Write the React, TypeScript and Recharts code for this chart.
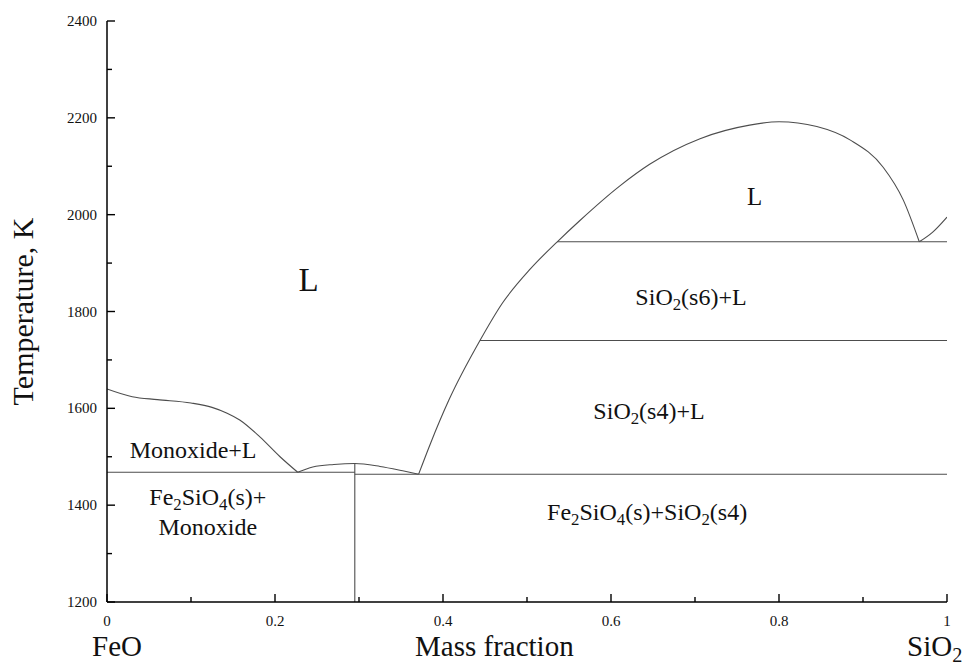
import { LineChart, Line, XAxis, YAxis, ReferenceDot } from "recharts";

const FONT = '"Liberation Serif", "Times New Roman", serif';
const INK = "#111";
const CURVE = "#4d4d4d";
const TICK_GAP = 10;

// x = mass fraction SiO2, t = temperature in K
const feoLiquidusX = [0, 0.03, 0.06, 0.1, 0.125, 0.143, 0.158, 0.182, 0.206, 0.227];
const feoLiquidusT = [1640, 1624, 1618, 1611, 1602, 1590, 1576, 1541, 1500, 1468];

const faDomeX = [0.227, 0.245, 0.27, 0.295, 0.325, 0.352, 0.371];
const faDomeT = [1468, 1479, 1484, 1486, 1480, 1471, 1464];

const silicaLiquidusX = [0.371, 0.385, 0.407, 0.444, 0.471, 0.504, 0.536, 0.563, 0.611, 0.646, 0.706, 0.765, 0.8, 0.845, 0.885, 0.924, 0.948, 0.967];
const silicaLiquidusT = [1464, 1527, 1617, 1740, 1818, 1888, 1944, 1988, 2060, 2104, 2157, 2185, 2192, 2182, 2154, 2098, 2030, 1944];

const cristobaliteX = [0.967, 0.983, 1];
const cristobaliteT = [1944, 1964, 1995];

const eutecticLeftX = [0, 0.295];
const eutecticLeftT = [1468, 1468];
const eutecticRightX = [0.295, 1];
const eutecticRightT = [1464, 1464];
const faVerticalX = [0.295, 0.295];
const faVerticalT = [1200, 1486];
const s6LineX = [0.536, 1];
const s6LineT = [1944, 1944];
const s4LineX = [0.444, 1];
const s4LineT = [1740, 1740];

const xTicks = [0, 0.1, 0.2, 0.3, 0.4, 0.5, 0.6, 0.7, 0.8, 0.9, 1];
const xTickLabels = ["0", "", "0.2", "", "0.4", "", "0.6", "", "0.8", "", "1"];
const yTicks = [1200, 1300, 1400, 1500, 1600, 1700, 1800, 1900, 2000, 2100, 2200, 2300, 2400];
const yTickLabels = ["1200", "", "1400", "", "1600", "", "1800", "", "2000", "", "2200", "", "2400"];

// phase-field labels, "_2" marks a subscript
const phaseText = ["L", "L", "SiO_2(s6)+L", "SiO_2(s4)+L", "Monoxide+L", "Fe_2SiO_4(s)+", "Monoxide", "Fe_2SiO_4(s)+SiO_2(s4)"];
const phaseX = [0.24, 0.771, 0.629, 0.579, 0.027, 0.12, 0.12, 0.643];
const phaseT = [1842, 2020, 1813, 1578, 1497, 1400, 1338, 1369];

const pts = (xs: number[], ts: number[]) => xs.map((x, i) => ({ x, t: ts[i] }));

const boundaries = [
  { key: "feo-liq", data: pts(feoLiquidusX, feoLiquidusT), curved: true },
  { key: "fa-dome", data: pts(faDomeX, faDomeT), curved: true },
  { key: "sio2-liq", data: pts(silicaLiquidusX, silicaLiquidusT), curved: true },
  { key: "crist", data: pts(cristobaliteX, cristobaliteT), curved: true },
  { key: "eut-l", data: pts(eutecticLeftX, eutecticLeftT), curved: false },
  { key: "eut-r", data: pts(eutecticRightX, eutecticRightT), curved: false },
  { key: "fa-v", data: pts(faVerticalX, faVerticalT), curved: false },
  { key: "s6", data: pts(s6LineX, s6LineT), curved: false },
  { key: "s4", data: pts(s4LineX, s4LineT), curved: false },
];

const labelSize = [33, 25, 24, 24, 24, 24, 24, 24];
const labelAnchor = ["middle", "middle", "start", "start", "start", "middle", "middle", "middle"];

function Subscripted({ text, size }: { text: string; size: number }) {
  const parts = text.split(/(_\d)/).filter((p) => p !== "");
  const shift = Math.round(size * 0.22);
  let down = false;
  return (
    <>
      {parts.map((p, i) => {
        if (p.startsWith("_")) {
          down = true;
          return (
            <tspan key={i} dy={shift} fontSize={size * 0.7}>
              {p.slice(1)}
            </tspan>
          );
        }
        const dy = down ? -shift : 0;
        down = false;
        return (
          <tspan key={i} dy={dy}>
            {p}
          </tspan>
        );
      })}
    </>
  );
}

function BottomTick({ x, y, payload }: any) {
  const ay = y - TICK_GAP;
  const label = xTickLabels[xTicks.indexOf(payload.value)];
  return (
    <g>
      <line x1={x} x2={x} y1={ay} y2={ay - (label ? 8 : 5)} stroke="#000" strokeWidth={1.4} />
      {label && (
        <text x={x} y={ay + 24} textAnchor="middle" style={{ fontFamily: FONT, fontSize: 15 }} fill={INK}>
          {label}
        </text>
      )}
    </g>
  );
}

function TopTick({ x, y, payload }: any) {
  const ay = y + TICK_GAP;
  const major = xTickLabels[xTicks.indexOf(payload.value)] !== "";
  return <line x1={x} x2={x} y1={ay} y2={ay + (major ? 8 : 5)} stroke="#000" strokeWidth={1.4} />;
}

function LeftTick({ x, y, payload }: any) {
  const ax = x + TICK_GAP;
  const label = yTickLabels[yTicks.indexOf(payload.value)];
  return (
    <g>
      <line x1={ax} x2={ax + (label ? 8 : 5)} y1={y} y2={y} stroke="#000" strokeWidth={1.4} />
      {label && (
        <text x={ax - 10} y={y + 5} textAnchor="end" style={{ fontFamily: FONT, fontSize: 15 }} fill={INK}>
          {label}
        </text>
      )}
    </g>
  );
}

function RightTick({ x, y, payload }: any) {
  const ax = x - TICK_GAP;
  const major = yTickLabels[yTicks.indexOf(payload.value)] !== "";
  return <line x1={ax} x2={ax - (major ? 8 : 5)} y1={y} y2={y} stroke="#000" strokeWidth={1.4} />;
}

function XTitles(props: any) {
  const vb = props.viewBox ?? { x: 107, y: 602, width: 840, height: 30 };
  const base = vb.y + 54;
  return (
    <g style={{ fontFamily: FONT, fontSize: 29 }} fill={INK}>
      <text x={vb.x - 15} y={base}>FeO</text>
      <text x={vb.x + 308} y={base}>Mass fraction</text>
      <text x={vb.x + 800} y={base}>
        <Subscripted text="SiO_2" size={29} />
      </text>
    </g>
  );
}

function YTitle(props: any) {
  const vb = props.viewBox ?? { x: 47, y: 21, width: 60, height: 581 };
  const bx = vb.x - 14;
  const cy = vb.y + vb.height / 2;
  return (
    <text
      x={bx}
      y={cy}
      transform={`rotate(-90 ${bx} ${cy})`}
      textAnchor="middle"
      style={{ fontFamily: FONT, fontSize: 30 }}
      fill={INK}
    >
      Temperature, K
    </text>
  );
}

export default function App() {
  return (
    <div style={{ position: "absolute", left: 0, top: 0, background: "#fff", fontFamily: FONT }}>
      <LineChart width={976} height={666} margin={{ top: 21, right: 29, bottom: 34, left: 47 }}>
        <XAxis
          xAxisId="bottom"
          type="number"
          dataKey="x"
          domain={[0, 1]}
          ticks={xTicks}
          interval={0}
          allowDataOverflow
          height={30}
          tickSize={0}
          tickLine={false}
          tickMargin={TICK_GAP}
          tick={<BottomTick />}
          axisLine={{ stroke: "#000", strokeWidth: 1.5 }}
          label={(p: any) => <XTitles {...p} />}
        />
        <XAxis
          xAxisId="top"
          orientation="top"
          type="number"
          dataKey="x"
          domain={[0, 1]}
          ticks={xTicks}
          interval={0}
          allowDataOverflow
          height={0}
          tickSize={0}
          tickLine={false}
          tickMargin={TICK_GAP}
          tick={<TopTick />}
          axisLine={{ stroke: "#000", strokeWidth: 1.5 }}
        />
        <YAxis
          yAxisId="left"
          type="number"
          dataKey="t"
          domain={[1200, 2400]}
          ticks={yTicks}
          interval={0}
          allowDataOverflow
          width={60}
          tickSize={0}
          tickLine={false}
          tickMargin={TICK_GAP}
          tick={<LeftTick />}
          axisLine={{ stroke: "#000", strokeWidth: 1.5 }}
          label={(p: any) => <YTitle {...p} />}
        />
        <YAxis
          yAxisId="right"
          orientation="right"
          type="number"
          dataKey="t"
          domain={[1200, 2400]}
          ticks={yTicks}
          interval={0}
          allowDataOverflow
          width={0}
          tickSize={0}
          tickLine={false}
          tickMargin={TICK_GAP}
          tick={<RightTick />}
          axisLine={{ stroke: "#000", strokeWidth: 1.5 }}
        />
        {boundaries.map((b) => (
          <Line
            key={b.key}
            xAxisId="bottom"
            yAxisId="left"
            data={b.data}
            dataKey="t"
            type={b.curved ? "monotone" : "linear"}
            stroke={CURVE}
            strokeWidth={1.1}
            dot={false}
            activeDot={false}
            isAnimationActive={false}
          />
        ))}
        {phaseText.map((txt, i) => (
          <ReferenceDot
            key={`lbl-${i}`}
            xAxisId="bottom"
            yAxisId="left"
            x={phaseX[i]}
            y={phaseT[i]}
            r={1}
            ifOverflow="visible"
            shape={(p: any) => (
              <text
                x={p.cx}
                y={p.cy}
                textAnchor={labelAnchor[i] as any}
                style={{ fontFamily: FONT, fontSize: labelSize[i] }}
                fill={INK}
              >
                <Subscripted text={txt} size={labelSize[i]} />
              </text>
            )}
          />
        ))}
      </LineChart>
    </div>
  );
}
